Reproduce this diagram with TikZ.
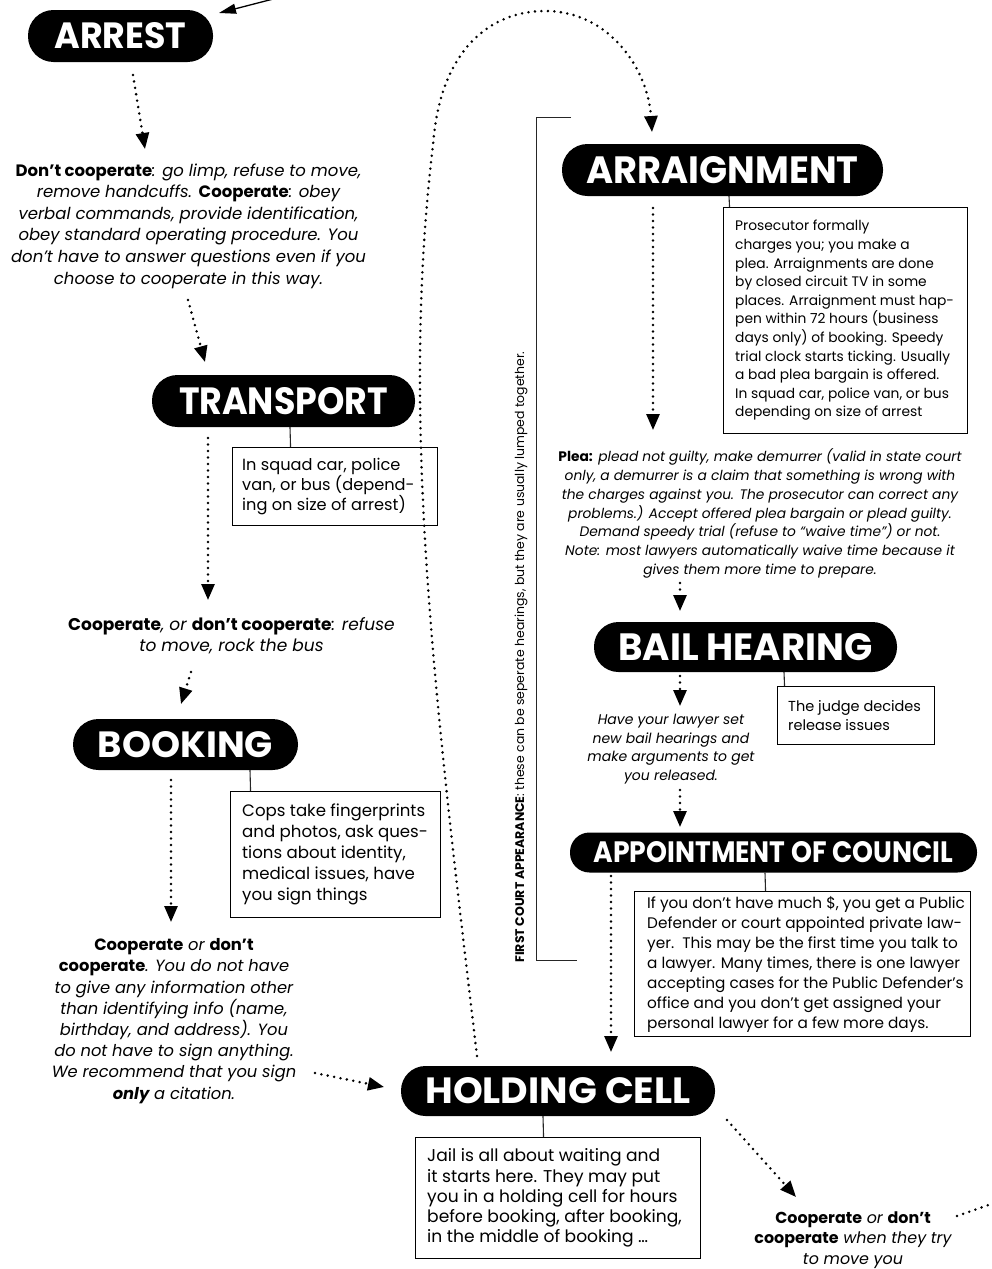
\documentclass[tikz,border=0pt]{standalone}
\usepackage{fontspec}
\usepackage{graphicx}
\setmainfont{Poppins}
\newfontfamily\titlefont{Poppins}
\usetikzlibrary{arrows.meta}
\newcommand\setfs[2]{\fontsize{#1}{#2}\selectfont}
\newcommand\bt[1]{{\upshape\bfseries #1}}
\newcommand\ttl[3]{\resizebox{#1pt}{#2pt}{\titlefont\bfseries #3}}
\tikzset{
  pill/.style={fill=black, text=white, inner sep=0pt, minimum height=52pt, rounded corners=25.5pt},
  itxt/.style={align=center, inner sep=0pt, font=\itshape\setfs{16.5}{21.6}},
  infobox/.style={draw=black, line width=1.1pt, inner sep=0pt, anchor=north west},
  boxtxt/.style={align=left, inner sep=0pt, anchor=west, font=\setfs{15.5}{20.3}},
  conn/.style={draw=black!85, line width=1.1pt},
  dotline/.style={line width=2.8pt, line cap=round, dash pattern=on 0pt off 6.5pt},
  dotarrow/.style={dotline, -{Triangle[length=16pt,width=13pt]}},
}
\begin{document}
\begin{tikzpicture}[x=1pt,y=-1pt]
\useasboundingbox (0,0) rectangle (991,1269);

% pills
\node[pill, minimum width=185pt] (arrest) at (120.5,36) {\ttl{132}{26}{ARREST}};
\node[pill, minimum width=321pt] (arraign) at (722.5,170) {\ttl{272}{27}{ARRAIGNMENT}};
\node[pill, minimum width=263pt] (transport) at (283.5,401) {\ttl{209}{27}{TRANSPORT}};
\node[pill, minimum width=225pt, minimum height=51pt] (booking) at (185.5,744.5) {\ttl{175}{26}{BOOKING}};
\node[pill, minimum width=303pt, minimum height=50pt, rounded corners=24.5pt] (bail) at (745.5,647) {\ttl{254}{27}{BAIL HEARING}};
\node[pill, minimum width=407pt, minimum height=40pt, rounded corners=19.5pt] (appoint) at (773.5,852.5) {\ttl{360}{21}{APPOINTMENT OF COUNCIL}};
\node[pill, minimum width=314pt, minimum height=50pt, rounded corners=24.5pt] (holding) at (558,1091) {\ttl{265}{26}{HOLDING CELL}};

% free text
\node[itxt] (t1) at (188.5,226) {\bt{Don’t cooperate}: go limp, refuse to move,\\ remove handcuffs. \bt{Cooperate}: obey\\ verbal commands, provide identification,\\ obey standard operating procedure. You\\ don’t have to answer questions even if you\\ choose to cooperate in this way.};
\node[itxt, font=\itshape\setfs{17}{21}] (t2) at (231.5,635.5) {\bt{Cooperate}, or \bt{don’t cooperate}: refuse\\ to move, rock the bus};
\node[itxt, font=\itshape\setfs{16.3}{21.2}] (t3) at (174,1021) {\bt{Cooperate} or \bt{don’t}\\ \bt{cooperate}. You do not have\\ to give any information other\\ than identifying info (name,\\ birthday, and address). You\\ do not have to sign anything.\\ We recommend that you sign\\ \textbf{only} a citation.};
\node[itxt, font=\itshape\setfs{15.9}{20.5}] (t4) at (853,1240) {\bt{Cooperate} or \bt{don’t}\\ \bt{cooperate} when they try\\ to move you};
\node[itxt, font=\itshape\setfs{13.8}{18.9}] (plea) at (760,513.5) {\bt{Plea:} plead not guilty, make demurrer (valid in state court\\ only, a demurrer is a claim that something is wrong with\\ the charges against you. The prosecutor can correct any\\ problems.) Accept offered plea bargain or plead guilty.\\ Demand speedy trial (refuse to “waive time”) or not.\\ Note: most lawyers automatically waive time because it\\ gives them more time to prepare.};
\node[itxt, font=\itshape\setfs{14}{18.7}] (bailtxt) at (671,749) {Have your lawyer set\\ new bail hearings and\\ make arguments to get\\ you released.};

% info boxes
\node[infobox, minimum width=205pt, minimum height=78pt] (tbox) at (232,447) {};
\node[boxtxt, font=\setfs{16.2}{20.3}] at ([xshift=10pt]tbox.west) {In squad car, police\\ van, or bus (depend-\\ ing on size of arrest)};
\node[infobox, minimum width=244pt, minimum height=226pt] (abox) at (723,207) {};
\node[boxtxt, font=\setfs{13.8}{18.6}] at ([xshift=12pt]abox.west) {Prosecutor formally\\ charges you; you make a\\ plea. Arraignments are done\\ by closed circuit TV in some\\ places. Arraignment must hap-\\ pen within 72 hours (business\\ days only) of booking. Speedy\\ trial clock starts ticking. Usually\\ a bad plea bargain is offered.\\ In squad car, police van, or bus\\ depending on size of arrest};
\node[infobox, minimum width=210pt, minimum height=126pt] (bkbox) at (230,791) {};
\node[boxtxt, font=\setfs{16.6}{21}] at ([xshift=12pt]bkbox.west) {Cops take fingerprints\\ and photos, ask ques-\\ tions about identity,\\ medical issues, have\\ you sign things};
\node[infobox, minimum width=157pt, minimum height=58pt] (blbox) at (777,686) {};
\node[boxtxt, font=\setfs{14.5}{19}] at ([xshift=11pt]blbox.west) {The judge decides\\ release issues};
\node[infobox, minimum width=336pt, minimum height=145pt] (apbox) at (634,891) {};
\node[boxtxt, font=\setfs{15.3}{20}] at ([xshift=13pt]apbox.west) {If you don’t have much \$, you get a Public\\ Defender or court appointed private law-\\ yer.\ \ This may be the first time you talk to\\ a lawyer. Many times, there is one lawyer\\ accepting cases for the Public Defender’s\\ office and you don’t get assigned your\\ personal lawyer for a few more days.};
\node[infobox, minimum width=285pt, minimum height=121pt] (hbox) at (415,1137) {};
\node[boxtxt, font=\setfs{17.1}{20.2}] at ([xshift=12pt]hbox.west) {Jail is all about waiting and\\ it starts here. They may put\\ you in a holding cell for hours\\ before booking, after booking,\\ in the middle of booking …};

% pill-to-box connectors
\draw[conn] ([xshift=6.5pt]transport.south) -- ([xshift=-44.5pt]tbox.north);
\draw[conn] ([xshift=6.5pt]arraign.south) -- ([xshift=-116pt]abox.north);
\draw[conn] ([xshift=64.5pt]booking.south) -- ([xshift=-85pt]bkbox.north);
\draw[conn] ([xshift=38.5pt]bail.south) -- ([xshift=-71.5pt]blbox.north);
\draw[conn] ([xshift=-8.5pt]appoint.south) -- ([xshift=-37pt]apbox.north);
\draw[conn] ([xshift=-15pt]holding.south) -- ([xshift=-14.5pt]hbox.north);

% bracket and side note
\coordinate (brtop) at (571,117);
\coordinate (brbot) at (577,960);
\draw[black!85, line width=0.9pt] (brtop) -- (536,117) -- (536,960) -- (brbot);
\node[rotate=90, inner sep=0pt] (side) at (521,657) {\resizebox{611pt}{!}{\setfs{12}{14}\bt{FIRST COURT APPEARANCE}: these can be seperate hearings, but they are usually lumped together.}};

% flow arrows
\coordinate (offtop) at (281,-3);
\coordinate (offright) at (997,1202);
\draw[line width=1.3pt, -{Triangle[length=17pt,width=10pt]}] (offtop) -- ([shift={(98.5,-23)}]arrest.center);
\draw[dotarrow] ([shift={(12.5,39)}]arrest.center) -- ([shift={(-43.5,-77)}]t1.center);
\draw[dotarrow] ([shift={(-0.5,74)}]t1.center) -- ([shift={(-78.5,-39)}]transport.center);
\draw[dotarrow] ([shift={(-75.5,37)}]transport.center) -- ([shift={(-23.5,-35.5)}]t2.center);
\draw[dotarrow] ([shift={(-40.5,36.5)}]t2.center) -- ([shift={(-4.5,-40.5)}]booking.center);
\draw[dotarrow] ([shift={(-14.5,35.5)}]booking.center) -- ([shift={(-3,-99)}]t3.center);
\draw[dotarrow] ([shift={(141,52)}]t3.center) -- ([shift={(-174,-4)}]holding.center);
\draw[dotarrow] ([shift={(-69.5,38)}]arraign.center) -- ([shift={(-107,-83.5)}]plea.center);
\draw[dotarrow] ([shift={(-80,69.5)}]plea.center) -- ([shift={(-65.5,-36)}]bail.center);
\draw[dotarrow] ([shift={(-65.5,29)}]bail.center) -- ([shift={(9,-43)}]bailtxt.center);
\draw[dotarrow] ([shift={(9,41)}]bailtxt.center) -- ([shift={(-93.5,-25.5)}]appoint.center);
\draw[dotarrow] ([shift={(-162.5,23.5)}]appoint.center) -- ([shift={(53,-39)}]holding.center);
\draw[dotarrow] ([shift={(169,29)}]holding.center) -- ([shift={(-57,-43)}]t4.center);
\draw[dotline] ([shift={(104,-24)}]t4.center) -- (offright);
\draw[dotarrow] ([shift={(-81,-35)}]holding.center) .. controls (435,700) and (400,420) .. (433,145)
   .. controls (440,50) and (490,11) .. (545,11)
   .. controls (610,11) and (648,70) .. ([shift={(-70.5,-38)}]arraign.center);
\end{tikzpicture}
\end{document}
